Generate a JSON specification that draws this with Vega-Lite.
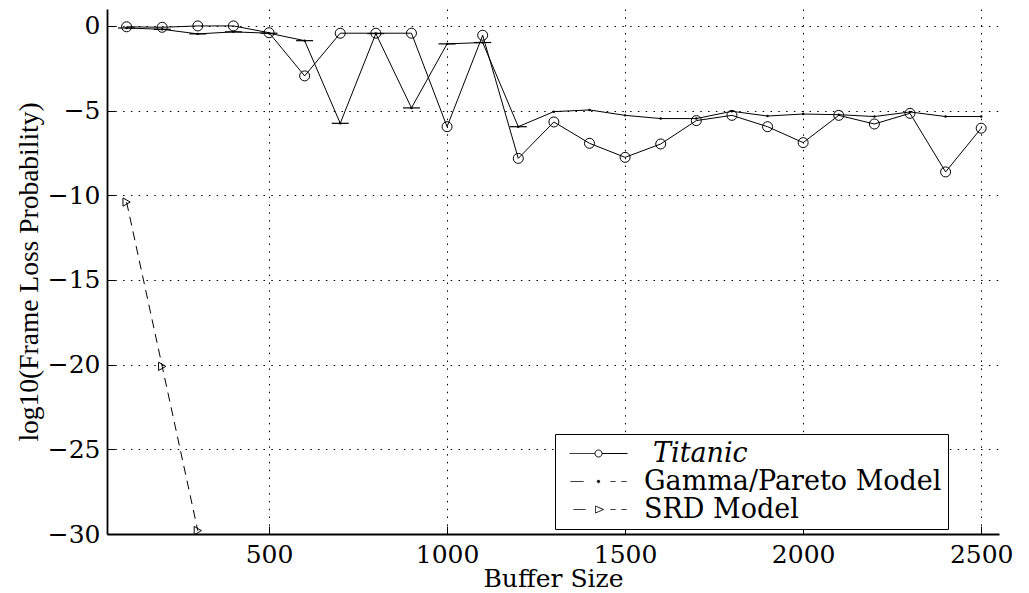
{
  "$schema": "https://vega.github.io/schema/vega-lite/v6.json",
  "width": 892,
  "height": 525,
  "autosize": {"type": "none"},
  "padding": {"left": 107, "top": 9, "right": 30, "bottom": 59},
  "background": "white",
  "config": {
    "view": {"stroke": null},
    "font": "DejaVu Serif",
    "axis": {
      "domainColor": "black",
      "domainWidth": 1.8,
      "tickColor": "black",
      "tickSize": -8,
      "tickWidth": 1,
      "grid": true,
      "gridColor": "black",
      "gridDash": [1.5, 6.3],
      "gridOpacity": 1,
      "gridWidth": 1,
      "labelFont": "DejaVu Serif",
      "labelFontSize": 25,
      "labelColor": "black",
      "titleFont": "DejaVu Serif",
      "titleFontSize": 25,
      "titleFontWeight": "normal",
      "titleColor": "black"
    }
  },
  "data": {
    "values": [
      {"series": "Titanic", "x": 100, "y": -0.05},
      {"series": "Titanic", "x": 200, "y": -0.08},
      {"series": "Titanic", "x": 300, "y": 0},
      {"series": "Titanic", "x": 400, "y": 0},
      {"series": "Titanic", "x": 500, "y": -0.4},
      {"series": "Titanic", "x": 600, "y": -2.95},
      {"series": "Titanic", "x": 700, "y": -0.43},
      {"series": "Titanic", "x": 800, "y": -0.43},
      {"series": "Titanic", "x": 900, "y": -0.43},
      {"series": "Titanic", "x": 1000, "y": -5.95},
      {"series": "Titanic", "x": 1100, "y": -0.55},
      {"series": "Titanic", "x": 1200, "y": -7.82},
      {"series": "Titanic", "x": 1300, "y": -5.67},
      {"series": "Titanic", "x": 1400, "y": -6.93},
      {"series": "Titanic", "x": 1500, "y": -7.76},
      {"series": "Titanic", "x": 1600, "y": -6.97},
      {"series": "Titanic", "x": 1700, "y": -5.59},
      {"series": "Titanic", "x": 1800, "y": -5.28},
      {"series": "Titanic", "x": 1900, "y": -5.95},
      {"series": "Titanic", "x": 2000, "y": -6.89},
      {"series": "Titanic", "x": 2100, "y": -5.28},
      {"series": "Titanic", "x": 2200, "y": -5.79},
      {"series": "Titanic", "x": 2300, "y": -5.16},
      {"series": "Titanic", "x": 2400, "y": -8.62},
      {"series": "Titanic", "x": 2500, "y": -6.04},
      {"series": "Gamma/Pareto Model", "x": 100, "y": -0.12},
      {"series": "Gamma/Pareto Model", "x": 200, "y": -0.2},
      {"series": "Gamma/Pareto Model", "x": 300, "y": -0.47},
      {"series": "Gamma/Pareto Model", "x": 400, "y": -0.35},
      {"series": "Gamma/Pareto Model", "x": 500, "y": -0.43},
      {"series": "Gamma/Pareto Model", "x": 600, "y": -0.87},
      {"series": "Gamma/Pareto Model", "x": 700, "y": -5.75},
      {"series": "Gamma/Pareto Model", "x": 800, "y": -0.45},
      {"series": "Gamma/Pareto Model", "x": 900, "y": -4.84},
      {"series": "Gamma/Pareto Model", "x": 1000, "y": -1.06},
      {"series": "Gamma/Pareto Model", "x": 1100, "y": -0.98},
      {"series": "Gamma/Pareto Model", "x": 1200, "y": -5.95},
      {"series": "Gamma/Pareto Model", "x": 1300, "y": -5.06},
      {"series": "Gamma/Pareto Model", "x": 1400, "y": -4.96},
      {"series": "Gamma/Pareto Model", "x": 1500, "y": -5.28},
      {"series": "Gamma/Pareto Model", "x": 1600, "y": -5.47},
      {"series": "Gamma/Pareto Model", "x": 1700, "y": -5.47},
      {"series": "Gamma/Pareto Model", "x": 1800, "y": -5.04},
      {"series": "Gamma/Pareto Model", "x": 1900, "y": -5.32},
      {"series": "Gamma/Pareto Model", "x": 2000, "y": -5.2},
      {"series": "Gamma/Pareto Model", "x": 2100, "y": -5.24},
      {"series": "Gamma/Pareto Model", "x": 2200, "y": -5.35},
      {"series": "Gamma/Pareto Model", "x": 2300, "y": -5.08},
      {"series": "Gamma/Pareto Model", "x": 2400, "y": -5.35},
      {"series": "Gamma/Pareto Model", "x": 2500, "y": -5.35},
      {"series": "SRD Model", "x": 100, "y": -10.4},
      {"series": "SRD Model", "x": 200, "y": -20.1},
      {"series": "SRD Model", "x": 300, "y": -29.8}
    ]
  },
  "encoding": {
    "x": {
      "field": "x",
      "type": "quantitative",
      "scale": {"domain": [45, 2550], "nice": false, "zero": false},
      "axis": {"values": [500, 1000, 1500, 2000, 2500], "format": "d", "title": "Buffer Size", "labelPadding": 16, "titlePadding": -1}
    },
    "y": {
      "field": "y",
      "type": "quantitative",
      "scale": {"domain": [-30, 1], "nice": false, "zero": false},
      "axis": {"values": [-30, -25, -20, -15, -10, -5, 0], "format": "d", "title": "log10(Frame Loss Probability)", "titleFont": "Liberation Serif", "titleFontSize": 27.5, "labelPadding": 15, "titlePadding": 4}
    }
  },
  "layer": [
    {
      "transform": [{"filter": "datum.series !== 'SRD Model'"}],
      "mark": {"type": "line", "strokeWidth": 1},
      "encoding": {
        "color": {
          "field": "series",
          "type": "nominal",
          "scale": {"domain": ["Titanic", "Gamma/Pareto Model", "SRD Model"], "range": ["black", "black", "black"]},
          "legend": {
            "orient": "none",
            "legendX": 448,
            "legendY": 425,
            "title": null,
            "fillColor": "white",
            "strokeColor": "black",
            "padding": 6,
            "symbolSize": 400,
            "symbolOffset": 24,
            "labelOffset": 32,
            "rowPadding": 0,
            "labelFont": "DejaVu Serif",
            "labelFontSize": 27,
            "labelColor": "black",
            "labelLimit": 400,
            "encode": {
              "symbols": {
                "update": {
                  "shape": {"signal": "datum.value === 'Titanic' ? 'M-2.9,0H-0.35M0.35,0H2.9M0.35,0A0.35,0.35,0,1,1,-0.35,0A0.35,0.35,0,1,1,0.35,0' : datum.value === 'SRD Model' ? 'M-2.5,0H-1.3M1.2,0H1.7M2.3,0H2.8M-0.3,-0.35L0.5,0L-0.3,0.35Z' : 'M-2.8,0H-1.5M1.2,0H1.7M2.3,0H2.8M0.12,0A0.12,0.12,0,1,1,-0.12,0A0.12,0.12,0,1,1,0.12,0'"},
                  "fill": {"signal": "datum.value === 'Gamma/Pareto Model' ? 'black' : 'transparent'"},
                  "stroke": {"value": "black"},
                  "strokeWidth": {"value": 1},
                  "strokeDash": {"value": [1, 0]},
                  "size": {"value": 400},
                  "opacity": {"value": 1}
                }
              },
              "labels": {
                "update": {
                  "fontStyle": {"signal": "datum.value === 'Titanic' ? 'italic' : 'normal'"},
                  "dx": {"signal": "datum.value === 'Titanic' ? 9 : 0"}
                }
              }
            }
          }
        }
      }
    },
    {
      "transform": [{"filter": "datum.series === 'SRD Model'"}],
      "mark": {"type": "line", "strokeWidth": 1, "color": "black", "strokeDash": [9, 6]},
      "encoding": {}
    },
    {
      "transform": [{"filter": "datum.series === 'Titanic'"}],
      "mark": {"type": "point", "shape": "circle", "size": 100, "filled": false, "color": "black", "strokeWidth": 1, "opacity": 1},
      "encoding": {}
    },
    {
      "transform": [{"filter": "datum.series === 'Gamma/Pareto Model'"}],
      "mark": {"type": "point", "shape": "circle", "size": 6, "filled": true, "color": "black", "opacity": 1},
      "encoding": {}
    },
    {
      "transform": [{"filter": "datum.series === 'Gamma/Pareto Model' && datum.x <= 1200"}],
      "mark": {"type": "tick", "orient": "horizontal", "size": 17, "thickness": 1.2, "color": "black", "opacity": 1},
      "encoding": {}
    },
    {
      "transform": [{"filter": "datum.series === 'SRD Model'"}],
      "mark": {"type": "point", "shape": "triangle-right", "size": 70, "filled": false, "color": "black", "strokeWidth": 1, "opacity": 1},
      "encoding": {}
    }
  ]
}
